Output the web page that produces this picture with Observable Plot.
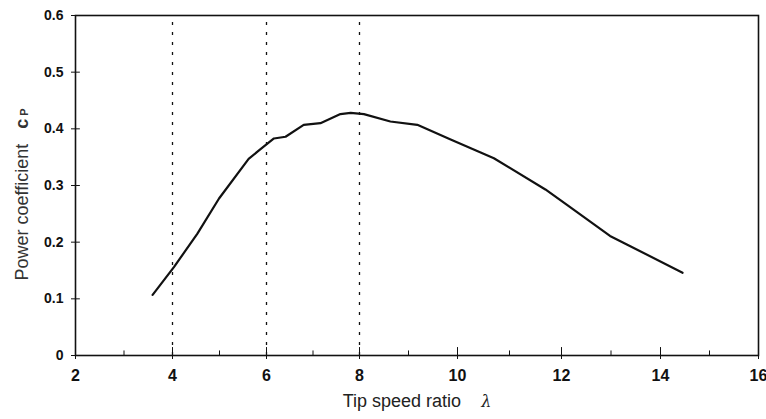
<!DOCTYPE html>
<html>
<head>
<meta charset="utf-8">
<script src="https://cdn.jsdelivr.net/npm/d3@7"></script>
<script src="https://cdn.jsdelivr.net/npm/@observablehq/plot@0.6"></script>
<style>
  html, body { margin: 0; padding: 0; background: #fff; }
  #chart svg { display: block; }
</style>
</head>
<body>
<div id="chart"></div>
<script>
// Tip speed ratio (lambda) and power coefficient (cP)
const lambda = [3.59, 4.03, 4.53, 4.99, 5.62, 5.84, 6.16, 6.41, 6.80, 7.16, 7.59, 7.81, 8.09, 8.63, 9.18, 9.86, 10.70, 11.69, 12.09, 12.98, 13.32, 14.45];
const cp     = [0.107, 0.156, 0.215, 0.277, 0.347, 0.362, 0.383, 0.386, 0.407, 0.410, 0.426, 0.428, 0.426, 0.413, 0.407, 0.381, 0.348, 0.293, 0.267, 0.211, 0.196, 0.146];
const xTicks = [2, 4, 6, 8, 10, 12, 14, 16];
const xMinorTicks = [3, 5, 7, 9, 11, 13, 15];
const yTicks = [0, 0.1, 0.2, 0.3, 0.4, 0.5, 0.6];
const gridLambda = [4, 6, 8];
// the scanned axis is slightly uneven: tick positions on the page
const xTickPixels = [75, 172, 266, 359, 457, 561, 660, 758];

const curve = lambda.map((x, i) => ({x, y: cp[i]}));

const chart = Plot.plot({
  width: 766,
  height: 419,
  marginLeft: 75,
  marginRight: 8,
  marginTop: 15,
  marginBottom: 64,
  style: {fontFamily: "Liberation Sans, Arial, sans-serif", fontSize: "12px", color: "#111", background: "#fff"},
  x: {type: "linear", domain: xTicks, range: xTickPixels},
  y: {domain: [0, 0.6]},
  marks: [
    Plot.ruleX(gridLambda, {y1: 0, y2: 0.6, stroke: "#111", strokeWidth: 1.3, strokeDasharray: "3,7"}),
    Plot.frame({stroke: "#111", strokeWidth: 1.6}),
    Plot.ruleX(xTicks, {y1: 0, y2: 0.014, stroke: "#111", strokeWidth: 1}),
    Plot.ruleX(xMinorTicks, {y1: 0, y2: 0.008, stroke: "#111", strokeWidth: 1}),
    Plot.ruleY(yTicks, {x1: 2, x2: 2.1, stroke: "#111", strokeWidth: 1}),
    Plot.axisX({ticks: xTicks, tickSize: 4, tickPadding: 10, fontSize: 16, fontWeight: 600,
      label: "Tip speed ratio λ", labelAnchor: "center", labelArrow: "none", labelOffset: 51}),
    Plot.axisY({ticks: yTicks, tickSize: 4, tickPadding: 8, fontWeight: "bold", fontSize: 14,
      tickFormat: d => d === 0 ? "0" : d3.format(".1f")(d),
      label: "Power coefficient cP", labelAnchor: "center", labelArrow: "none", labelOffset: 60}),
    Plot.line(curve, {x: "x", y: "y", stroke: "#111", strokeWidth: 2.2, strokeLinejoin: "round"})
  ]
});

document.getElementById("chart").appendChild(chart);

// Style the axis titles: italic lambda, small-cap P
const svg = d3.select(chart);
svg.selectAll("text").each(function() {
  const t = d3.select(this);
  const s = this.textContent;
  if (s === "Tip speed ratio λ") {
    t.text(null).attr("font-family", "Liberation Sans Narrow, Arial Narrow, sans-serif").attr("font-size", 18).attr("font-weight", "normal").attr("fill", "#222");
    t.append("tspan").text("Tip speed ratio    ");
    t.append("tspan").attr("font-style", "italic").attr("font-family", "DejaVu Serif, serif").attr("font-size", 16).text("λ");
  } else if (s === "Power coefficient cP") {
    t.text(null).attr("font-family", "Liberation Sans, Arial, sans-serif").attr("font-size", 18).attr("font-weight", "normal").attr("fill", "#333").attr("dx", -9);
    t.append("tspan").text("Power coefficient   ");
    t.append("tspan").attr("font-weight", "bold").text("c");
    t.append("tspan").attr("font-size", 11).attr("font-weight", "bold").text(" P");
  }
});
</script>
</body>
</html>
